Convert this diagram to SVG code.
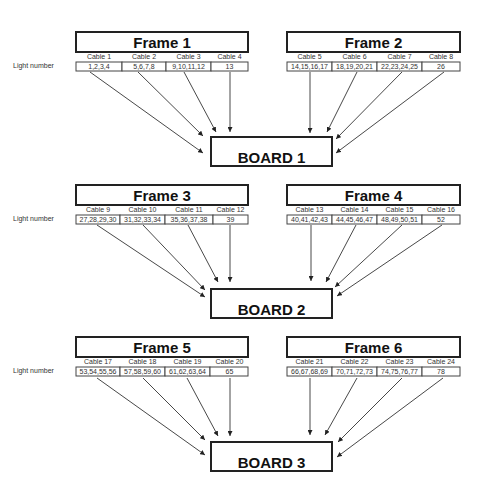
<svg xmlns="http://www.w3.org/2000/svg" width="477" height="500" viewBox="0 0 477 500">
<style>
.frame{fill:#fff;stroke:#222;stroke-width:2}
.title{font-family:"Liberation Sans",Arial,sans-serif;font-weight:bold;font-size:15px;fill:#111;text-anchor:middle}
.board{fill:#fff;stroke:#222;stroke-width:2}
.btext{font-family:"Liberation Sans",Arial,sans-serif;font-weight:bold;font-size:15px;fill:#111;text-anchor:middle}
.cell{fill:#fff;stroke:#444;stroke-width:1}
.small{font-family:"Liberation Sans",Arial,sans-serif;font-size:7px;fill:#333;text-anchor:middle}
.lbl{font-family:"Liberation Sans",Arial,sans-serif;font-size:7px;fill:#333}
.arr line{stroke:#333;stroke-width:0.9;marker-end:url(#ah)}
</style>
<defs>
<marker id="ah" viewBox="0 0 6 6" refX="6" refY="3" markerWidth="5" markerHeight="5" markerUnits="userSpaceOnUse" orient="auto">
<path d="M0,0 L6,3 L0,6 z" fill="#222"/>
</marker>
</defs>
<rect width="477" height="500" fill="#fff"/>

<!-- Row 1 -->
<text class="lbl" x="13" y="68">Light number</text>
<g id="frame1">
<rect class="frame" x="76" y="32" width="172" height="20"/>
<text class="title" x="162" y="48">Frame 1</text>
<text class="small" x="99" y="59">Cable 1</text>
<text class="small" x="144" y="59">Cable 2</text>
<text class="small" x="188.5" y="59">Cable 3</text>
<text class="small" x="229.5" y="59">Cable 4</text>
<rect class="cell" x="76" y="62" width="46" height="9"/>
<rect class="cell" x="122" y="62" width="44" height="9"/>
<rect class="cell" x="166" y="62" width="45" height="9"/>
<rect class="cell" x="211" y="62" width="37" height="9"/>
<text class="small" x="99" y="69">1,2,3,4</text>
<text class="small" x="144" y="69">5,6,7,8</text>
<text class="small" x="188.5" y="69">9,10,11,12</text>
<text class="small" x="229.5" y="69">13</text>
</g>
<g id="frame2">
<rect class="frame" x="287" y="32" width="173" height="20"/>
<text class="title" x="373.5" y="48">Frame 2</text>
<text class="small" x="309.5" y="59">Cable 5</text>
<text class="small" x="354.5" y="59">Cable 6</text>
<text class="small" x="399.5" y="59">Cable 7</text>
<text class="small" x="441" y="59">Cable 8</text>
<rect class="cell" x="287" y="62" width="45" height="9"/>
<rect class="cell" x="332" y="62" width="45" height="9"/>
<rect class="cell" x="377" y="62" width="45" height="9"/>
<rect class="cell" x="422" y="62" width="38" height="9"/>
<text class="small" x="309.5" y="69">14,15,16,17</text>
<text class="small" x="354.5" y="69">18,19,20,21</text>
<text class="small" x="399.5" y="69">22,23,24,25</text>
<text class="small" x="441" y="69">26</text>
</g>
<g id="board1">
<rect class="board" x="211" y="137" width="121" height="29"/>
<text class="btext" x="271.5" y="163">BOARD 1</text>
</g>

<!-- Row 2 -->
<text class="lbl" x="13" y="221">Light number</text>
<g id="frame3">
<rect class="frame" x="76" y="185" width="172" height="20"/>
<text class="title" x="162" y="201">Frame 3</text>
<text class="small" x="98" y="212">Cable 9</text>
<text class="small" x="142.5" y="212">Cable 10</text>
<text class="small" x="189" y="212">Cable 11</text>
<text class="small" x="230.5" y="212">Cable 12</text>
<rect class="cell" x="76" y="215" width="44" height="9"/>
<rect class="cell" x="120" y="215" width="45" height="9"/>
<rect class="cell" x="165" y="215" width="48" height="9"/>
<rect class="cell" x="213" y="215" width="35" height="9"/>
<text class="small" x="98" y="222">27,28,29,30</text>
<text class="small" x="142.5" y="222">31,32,33,34</text>
<text class="small" x="189" y="222">35,36,37,38</text>
<text class="small" x="230.5" y="222">39</text>
</g>
<g id="frame4">
<rect class="frame" x="287" y="185" width="173" height="20"/>
<text class="title" x="373.5" y="201">Frame 4</text>
<text class="small" x="309.5" y="212">Cable 13</text>
<text class="small" x="354.5" y="212">Cable 14</text>
<text class="small" x="399.5" y="212">Cable 15</text>
<text class="small" x="441" y="212">Cable 16</text>
<rect class="cell" x="287" y="215" width="45" height="9"/>
<rect class="cell" x="332" y="215" width="45" height="9"/>
<rect class="cell" x="377" y="215" width="45" height="9"/>
<rect class="cell" x="422" y="215" width="38" height="9"/>
<text class="small" x="309.5" y="222">40,41,42,43</text>
<text class="small" x="354.5" y="222">44,45,46,47</text>
<text class="small" x="399.5" y="222">48,49,50,51</text>
<text class="small" x="441" y="222">52</text>
</g>
<g id="board2">
<rect class="board" x="211" y="289" width="121" height="29"/>
<text class="btext" x="271.5" y="315">BOARD 2</text>
</g>

<!-- Row 3 -->
<text class="lbl" x="13" y="373">Light number</text>
<g id="frame5">
<rect class="frame" x="76" y="337" width="172" height="20"/>
<text class="title" x="162" y="353">Frame 5</text>
<text class="small" x="98" y="364">Cable 17</text>
<text class="small" x="142.5" y="364">Cable 18</text>
<text class="small" x="187.5" y="364">Cable 19</text>
<text class="small" x="229.5" y="364">Cable 20</text>
<rect class="cell" x="76" y="367" width="44" height="9"/>
<rect class="cell" x="120" y="367" width="45" height="9"/>
<rect class="cell" x="165" y="367" width="45" height="9"/>
<rect class="cell" x="210" y="367" width="38" height="9"/>
<text class="small" x="98" y="374">53,54,55,56</text>
<text class="small" x="142.5" y="374">57,58,59,60</text>
<text class="small" x="187.5" y="374">61,62,63,64</text>
<text class="small" x="229.5" y="374">65</text>
</g>
<g id="frame6">
<rect class="frame" x="287" y="337" width="173" height="20"/>
<text class="title" x="373.5" y="353">Frame 6</text>
<text class="small" x="309.5" y="364">Cable 21</text>
<text class="small" x="354.5" y="364">Cable 22</text>
<text class="small" x="399.5" y="364">Cable 23</text>
<text class="small" x="441" y="364">Cable 24</text>
<rect class="cell" x="287" y="367" width="45" height="9"/>
<rect class="cell" x="332" y="367" width="45" height="9"/>
<rect class="cell" x="377" y="367" width="45" height="9"/>
<rect class="cell" x="422" y="367" width="38" height="9"/>
<text class="small" x="309.5" y="374">66,67,68,69</text>
<text class="small" x="354.5" y="374">70,71,72,73</text>
<text class="small" x="399.5" y="374">74,75,76,77</text>
<text class="small" x="441" y="374">78</text>
</g>
<g id="board3">
<rect class="board" x="211" y="442" width="121" height="29"/>
<text class="btext" x="271.5" y="468">BOARD 3</text>
</g>

<g id="connectors" class="arr">
<line x1="90" y1="72" x2="203" y2="153"/>
<line x1="138" y1="72" x2="203" y2="136"/>
<line x1="184" y1="72" x2="216" y2="132"/>
<line x1="230" y1="72" x2="230" y2="132"/>
<line x1="310" y1="72" x2="310" y2="133"/>
<line x1="357" y1="72" x2="327" y2="132"/>
<line x1="402" y1="72" x2="336" y2="139"/>
<line x1="444" y1="72" x2="336" y2="153"/>

<line x1="97" y1="225" x2="205" y2="297"/>
<line x1="143" y1="225" x2="205" y2="290"/>
<line x1="188" y1="225" x2="218" y2="282"/>
<line x1="230" y1="225" x2="230" y2="282"/>
<line x1="311" y1="225" x2="311" y2="281"/>
<line x1="356" y1="225" x2="326" y2="282"/>
<line x1="402" y1="225" x2="335" y2="287"/>
<line x1="442" y1="225" x2="337" y2="296"/>

<line x1="97" y1="378" x2="205" y2="455"/>
<line x1="143" y1="378" x2="205" y2="440"/>
<line x1="187" y1="378" x2="218" y2="436"/>
<line x1="230" y1="378" x2="230" y2="436"/>
<line x1="310" y1="378" x2="310" y2="435"/>
<line x1="357" y1="378" x2="325" y2="435"/>
<line x1="402" y1="378" x2="338" y2="442"/>
<line x1="443" y1="378" x2="337" y2="457"/>
</g>
</svg>
